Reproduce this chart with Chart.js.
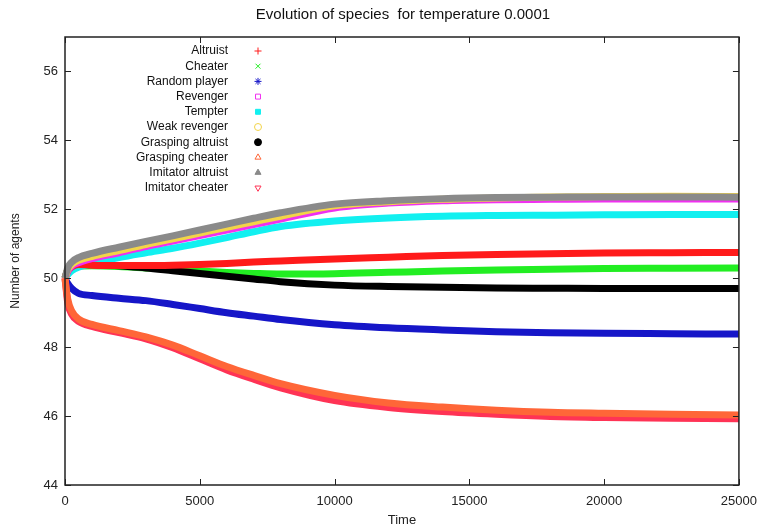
<!DOCTYPE html>
<html>
<head>
<meta charset="utf-8">
<script src="https://cdn.jsdelivr.net/npm/chart.js@4"></script>
<style>
  html, body { margin: 0; padding: 0; background: #fff; }
  canvas { display: block; }
</style>
</head>
<body>
<canvas id="species-chart" width="766" height="528"></canvas>
<script>
// sample times (x) and population per species
const times = [0, 100, 250, 500, 1000, 2000, 3000, 4000, 5000, 6000, 7000, 8000, 10000, 12000, 14000, 16000, 18000, 20000, 22500, 25000];

const altruist         = [50.0, 50.2, 50.33, 50.4, 50.38, 50.37, 50.37, 50.38, 50.4, 50.43, 50.47, 50.5, 50.56, 50.61, 50.66, 50.69, 50.71, 50.73, 50.74, 50.75];
const cheater          = [50.0, 50.2, 50.3, 50.35, 50.36, 50.34, 50.3, 50.26, 50.21, 50.17, 50.14, 50.12, 50.13, 50.17, 50.21, 50.24, 50.26, 50.28, 50.29, 50.3];
const randomPlayer     = [50.0, 49.85, 49.7, 49.56, 49.5, 49.42, 49.35, 49.24, 49.12, 49.0, 48.9, 48.8, 48.65, 48.56, 48.5, 48.45, 48.42, 48.4, 48.39, 48.38];
const revenger         = [50.0, 50.2, 50.35, 50.45, 50.57, 50.74, 50.92, 51.08, 51.24, 51.4, 51.56, 51.72, 52.04, 52.18, 52.25, 52.28, 52.29, 52.3, 52.3, 52.3];
const tempter          = [50.0, 50.1, 50.22, 50.32, 50.42, 50.6, 50.74, 50.87, 51.02, 51.18, 51.35, 51.5, 51.66, 51.75, 51.8, 51.82, 51.83, 51.84, 51.85, 51.85];
const weakRevenger     = [50.0, 50.25, 50.4, 50.52, 50.63, 50.8, 50.98, 51.14, 51.31, 51.48, 51.64, 51.8, 52.1, 52.22, 52.29, 52.33, 52.36, 52.37, 52.38, 52.37];
const graspingAltruist = [50.0, 50.25, 50.38, 50.43, 50.42, 50.36, 50.3, 50.22, 50.14, 50.06, 49.98, 49.9, 49.8, 49.76, 49.74, 49.72, 49.71, 49.7, 49.7, 49.7];
const graspingCheater  = [50.0, 49.4, 49.05, 48.82, 48.66, 48.48, 48.3, 48.06, 47.75, 47.44, 47.18, 46.94, 46.6, 46.38, 46.26, 46.17, 46.11, 46.08, 46.05, 46.03];
const imitatorAltruist = [50.0, 50.3, 50.47, 50.6, 50.72, 50.9, 51.07, 51.23, 51.4, 51.57, 51.74, 51.9, 52.15, 52.25, 52.31, 52.34, 52.35, 52.36, 52.36, 52.35];
const imitatorCheater  = [50.0, 49.3, 48.95, 48.75, 48.6, 48.42, 48.24, 47.98, 47.66, 47.34, 47.07, 46.82, 46.45, 46.25, 46.13, 46.05, 45.99, 45.96, 45.94, 45.92];

const xTicks = [0, 5000, 10000, 15000, 20000, 25000];
const yTicks = [44, 46, 48, 50, 52, 54, 56];

const FONT = '"Liberation Sans", Arial, sans-serif';

function series(label, values, color, marker, fill, order, rotation) {
    return {
        label: label,
        data: values.map((v, i) => ({ x: times[i], y: v })),
        borderColor: color,
        backgroundColor: color,
        borderWidth: 7,
        pointRadius: 0,
        cubicInterpolationMode: 'monotone',
        clip: false,
        order: order,
        markerStyle: marker,
        markerFill: fill,
        markerRotation: rotation || 0
    };
}

// gnuplot-like key: text right aligned, symbol on the right
const sideLegend = {
    id: 'sideLegend',
    afterDraw(chart) {
        const ctx = chart.ctx;
        ctx.save();
        ctx.font = '12px ' + FONT;
        ctx.textAlign = 'right';
        ctx.textBaseline = 'middle';
        ctx.lineWidth = 1;
        chart.data.datasets.forEach((ds, i) => {
            const yy = 51 + i * 15.2;
            ctx.fillStyle = '#111';
            ctx.fillText(ds.label, 228, yy);
            ctx.strokeStyle = ds.borderColor;
            ctx.fillStyle = ds.markerFill;
            Chart.helpers.drawPoint(ctx, {
                pointStyle: ds.markerStyle,
                radius: 3.5,
                rotation: ds.markerRotation,
                borderWidth: 1
            }, 258, yy);
        });
        ctx.restore();
    }
};

// box around the plot with inward ticks on all four sides, plus title
const frameTicks = {
    id: 'frameTicks',
    afterDatasetsDraw(chart) {
        const { ctx, chartArea: a, scales } = chart;
        ctx.save();
        ctx.strokeStyle = '#222';
        ctx.lineWidth = 1;
        ctx.beginPath();
        xTicks.forEach(t => {
            const px = Math.round(scales.x.getPixelForValue(t)) + 0.5;
            ctx.moveTo(px, a.bottom); ctx.lineTo(px, a.bottom - 6);
            ctx.moveTo(px, a.top); ctx.lineTo(px, a.top + 6);
        });
        yTicks.forEach(t => {
            const py = Math.round(scales.y.getPixelForValue(t)) + 0.5;
            ctx.moveTo(a.left, py); ctx.lineTo(a.left + 6, py);
            ctx.moveTo(a.right, py); ctx.lineTo(a.right - 6, py);
        });
        ctx.stroke();
        ctx.lineWidth = 1.5;
        ctx.strokeRect(a.left, a.top, a.right - a.left, a.bottom - a.top);

        ctx.fillStyle = '#111';
        ctx.font = '15px ' + FONT;
        ctx.textAlign = 'center';
        ctx.textBaseline = 'middle';
        ctx.fillText('Evolution of species  for temperature 0.0001', (a.left + a.right) / 2 + 1, 15);
        ctx.restore();
    }
};

const chart = new Chart(document.getElementById('species-chart'), {
    type: 'line',
    data: {
        datasets: [
            series('Altruist', altruist, '#ff1a1a', 'cross', '#fff', 4),
            series('Cheater', cheater, '#22ee22', 'crossRot', '#fff', 6),
            series('Random player', randomPlayer, '#1616c8', 'star', '#fff', 4),
            series('Revenger', revenger, '#f030f0', 'rect', '#fff', 3),
            series('Tempter', tempter, '#12f0f0', 'rect', '#12f0f0', 4),
            series('Weak revenger', weakRevenger, '#f2d448', 'circle', '#fff', 2),
            series('Grasping altruist', graspingAltruist, '#000000', 'circle', '#000', 5),
            series('Grasping cheater', graspingCheater, '#ff6638', 'triangle', '#fff', 1),
            series('Imitator altruist', imitatorAltruist, '#8a8a8a', 'triangle', '#8a8a8a', 1),
            series('Imitator cheater', imitatorCheater, '#ff3355', 'triangle', '#fff', 2, 180)
        ]
    },
    options: {
        responsive: false,
        animation: false,
        devicePixelRatio: 1,
        layout: { padding: { top: 37, right: 24, left: 0, bottom: 0 } },
        plugins: {
            legend: { display: false },
            tooltip: { enabled: false },
            title: { display: false }
        },
        scales: {
            x: {
                type: 'linear',
                min: 0,
                max: 25000,
                afterFit(scale) { scale.height = 43; },
                afterBuildTicks(scale) { scale.ticks = xTicks.map(v => ({ value: v })); },
                grid: { display: false, drawTicks: false },
                border: { display: false },
                ticks: { color: '#222', font: { size: 13, family: FONT }, padding: 9, maxRotation: 0, callback: v => String(v) },
                title: { display: true, text: 'Time', color: '#222', font: { size: 13, family: FONT }, padding: { top: 0, bottom: 0 } }
            },
            y: {
                min: 44,
                max: 57,
                afterFit(scale) { scale.width = 65; },
                afterBuildTicks(scale) { scale.ticks = yTicks.map(v => ({ value: v })); },
                grid: { display: false, drawTicks: false },
                border: { display: false },
                ticks: { color: '#222', font: { size: 13, family: FONT }, padding: 7, callback: v => String(v) },
                title: { display: true, text: 'Number of agents', color: '#222', font: { size: 12, family: FONT }, padding: { top: 8, bottom: 0 } }
            }
        }
    },
    plugins: [frameTicks, sideLegend]
});
</script>
</body>
</html>
